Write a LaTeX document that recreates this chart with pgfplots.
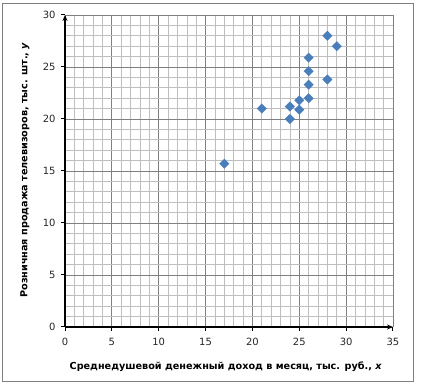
\documentclass[border=0pt]{standalone}
\usepackage{pgfplots}
\pgfplotsset{compat=1.18}
\usepackage{fontspec}
\setmainfont{DejaVu Sans}
\usetikzlibrary{arrows.meta}
\definecolor{ptblue}{RGB}{74,126,187}
\definecolor{majgrid}{RGB}{128,128,128}
\definecolor{mingrid}{RGB}{190,190,190}
\begin{document}
\begin{tikzpicture}[x=1bp,y=1bp]
\path[use as bounding box] (0,0) rectangle (422,384);
\draw[color=majgrid, line width=0.8bp] (2.5,3) rectangle (413,381);
\begin{axis}[
  at={(65bp,57bp)}, anchor=south west,
  scale only axis, width=328bp, height=312bp,
  xmin=0, xmax=35, ymin=0, ymax=30,
  xtick={0,5,...,35}, ytick={0,5,...,30},
  minor x tick num=4, minor y tick num=4,
  grid=both,
  major grid style={color=majgrid, line width=0.8bp},
  minor grid style={color=mingrid, line width=0.6bp},
  axis lines=left,
  axis line style={black, line width=1.6bp, -{Stealth[length=6bp,width=5bp]}},
  tick align=outside,
  major tick length=4bp, minor tick length=0pt,
  tick style={black, line width=1bp},
  ticklabel style={font=\fontsize{10}{12}\selectfont, text=black!85},
  /pgf/number format/assume math mode=true,
  xticklabel style={yshift=-4bp},
  yticklabel style={xshift=-2bp},
  xlabel={\textbf{Среднедушевой денежный доход в месяц, тыс. руб., \textit{x}}},
  ylabel={\textbf{Розничная продажа телевизоров, тыс. шт., \textit{y}}},
  label style={font=\fontsize{9.7}{11}\selectfont},
  xlabel style={at={(axis description cs:0.49,-0.128)}, anchor=center},
  ylabel style={at={(axis description cs:-0.122,0.503)}, anchor=center},
  clip=false,
]
\addplot[only marks, mark=square*, mark size=3.3bp, color=ptblue, mark options={fill=ptblue, draw=ptblue, rotate=45}] coordinates {
(17,15.7) (21,21.0) (24,21.2) (24,20.0) (25,21.8) (25,20.9)
(26,25.9) (26,24.6) (26,23.3) (26,22.0) (28,28.0) (28,23.8) (29,27.0)
};
\end{axis}
\end{tikzpicture}
\end{document}
